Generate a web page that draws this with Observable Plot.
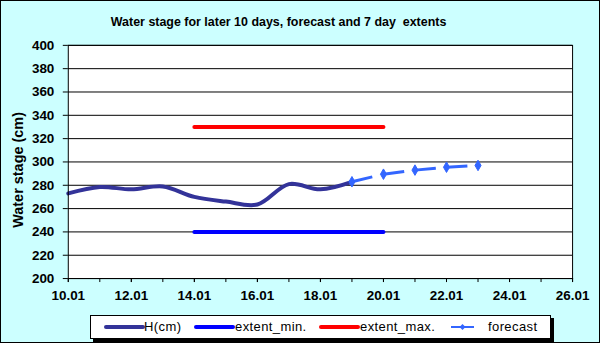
<!DOCTYPE html>
<html>
<head>
<meta charset="utf-8">
<script src="https://cdn.jsdelivr.net/npm/d3@7"></script>
<script src="https://cdn.jsdelivr.net/npm/@observablehq/plot@0.6"></script>
<style>
  html, body { margin: 0; padding: 0; background: #fff; }
  #wrap { position: relative; width: 600px; height: 343px; background: #ccffff; box-sizing: border-box; border: 1px solid #000; overflow: hidden; font-family: "Liberation Sans", Arial, sans-serif; }
  #wrap svg { position: absolute; left: -1px; top: -1px; }
  #legend { position: absolute; left: 89px; top: 314px; width: 461px; height: 24px; background: #fff; border: 1px solid #000; box-shadow: 3px 3px 0 #000; box-sizing: border-box; font-size: 13px; }
  #legend .sw { position: absolute; top: 9px; }
  #legend .lb { position: absolute; top: 3px; letter-spacing: 0.4px; }
</style>
</head>
<body>
<div id="wrap"></div>
<script>
// ---- data ----
const hDays   = [10, 11, 12, 13, 14, 15, 16, 17, 18, 19];
const hValues = [273, 278.5, 276.5, 279, 270, 266, 263.5, 281, 276.5, 283];

const fcDays   = [19, 20, 21, 22, 23];
const fcValues = [283, 289.5, 293, 295.5, 297];

const extDays = [14, 20];
const extMin  = [240, 240];
const extMax  = [330, 330];

const yTicks = [200, 220, 240, 260, 280, 300, 320, 340, 360, 380, 400];
const xMinorTicks = [10,11,12,13,14,15,16,17,18,19,20,21,22,23,24,25,26];
const xTicks = [10, 12, 14, 16, 18, 20, 22, 24, 26];
const xTickLabels = ["10.01","12.01","14.01","16.01","18.01","20.01","22.01","24.01","26.01"];

const title = "Water stage for later 10 days, forecast and 7 day  extents";
const yLabel = "Water stage (cm)";

const legendItems = [
  {name: "H(cm)", color: "#333399"},
  {name: "extent_min.", color: "#0000ff"},
  {name: "extent_max.", color: "#ff0000"},
  {name: "forecast", color: "#3366ff"}
];

// ---- tables ----
const hData = hDays.map((d, i) => ({x: d, y: hValues[i]}));
const fcData = fcDays.map((d, i) => ({x: d, y: fcValues[i]}));
const fcSeg = fcData.slice(0, -1).map((p, i) => ({x1: p.x, y1: p.y, x2: fcData[i + 1].x, y2: fcData[i + 1].y}));
const minData = extDays.map((d, i) => ({x: d, y: extMin[i]}));
const maxData = extDays.map((d, i) => ({x: d, y: extMax[i]}));

const chart = Plot.plot({
  width: 600,
  height: 343,
  marginLeft: 68,
  marginRight: 26,
  marginTop: 45,
  marginBottom: 64,
  style: {background: "transparent", fontFamily: "'Liberation Sans', Arial, sans-serif", color: "#000"},
  x: {domain: [10, 26]},
  y: {domain: [200, 400]},
  marks: [
    Plot.frame({fill: "#fff"}),
    Plot.gridY(yTicks, {stroke: "#000", strokeOpacity: 1, strokeWidth: 1}),
    Plot.axisY(yTicks, {tickSize: 5, tickPadding: 9, fontSize: 13.5, fontWeight: "bold", label: null, stroke: "#000"}),
    Plot.axisX(xMinorTicks, {tickSize: 4, tickFormat: () => "", label: null}),
    Plot.axisX(xTicks, {tickSize: 4, tickPadding: 8, fontSize: 13.5, fontWeight: "bold", label: null,
      tickFormat: (d) => xTickLabels[xTicks.indexOf(d)]}),
    Plot.line(minData, {x: "x", y: "y", stroke: "#0000ff", strokeWidth: 4}),
    Plot.line(maxData, {x: "x", y: "y", stroke: "#ff0000", strokeWidth: 4}),
    Plot.line(hData, {x: "x", y: "y", stroke: "#333399", strokeWidth: 4, curve: "catmull-rom"}),
    Plot.link(fcSeg, {x1: "x1", y1: "y1", x2: "x2", y2: "y2", stroke: "#3366ff", strokeWidth: 3, strokeDasharray: "21,40", strokeLinecap: "butt"}),
    Plot.dot(fcData, {x: "x", y: "y", symbol: "diamond", r: 3.2, fill: "#3366ff", stroke: "#3366ff", strokeWidth: 1}),
    Plot.frame({stroke: "#000", strokeWidth: 1}),
    Plot.text([title], {frameAnchor: "top", dx: -42, dy: -23, fontSize: 12.5, fontWeight: "bold", lineAnchor: "middle", fill: "#000"}),
    Plot.text([yLabel], {frameAnchor: "left", dx: -50, dy: 8, rotate: -90, fontSize: 14.5, fontWeight: "bold", lineAnchor: "middle", textAnchor: "middle", fill: "#000"})
  ]
});

const wrap = document.getElementById("wrap");
wrap.appendChild(chart);

// legend
const legend = document.createElement("div");
legend.id = "legend";
const pos = [
  {sx: 15, sw: 37, tx: 53},
  {sx: 105, sw: 37, tx: 144},
  {sx: 230, sw: 37, tx: 269},
  {sx: 360, sw: 23, tx: 397}
];
legendItems.forEach((it, i) => {
  const p = pos[i];
  const s = document.createElementNS("http://www.w3.org/2000/svg", "svg");
  s.setAttribute("width", p.sw + 4);
  s.setAttribute("height", 8);
  s.setAttribute("class", "sw");
  s.style.left = (p.sx - 2) + "px";
  s.style.top = "7px";
  if (i < 3) {
    s.innerHTML = `<line x1="2" x2="${p.sw + 2}" y1="4" y2="4" stroke="${it.color}" stroke-width="4" stroke-linecap="round"/>`;
  } else {
    s.innerHTML = `<line x1="2" x2="${p.sw + 2}" y1="4" y2="4" stroke="${it.color}" stroke-width="2"/>` +
      `<path d="M${p.sw/2 + 2},1 L${p.sw/2 + 5},4 L${p.sw/2 + 2},7 L${p.sw/2 - 1},4Z" fill="${it.color}"/>`;
  }
  legend.appendChild(s);
  const t = document.createElement("div");
  t.className = "lb";
  t.style.left = p.tx + "px";
  t.textContent = it.name;
  legend.appendChild(t);
});
wrap.appendChild(legend);
</script>
</body>
</html>
